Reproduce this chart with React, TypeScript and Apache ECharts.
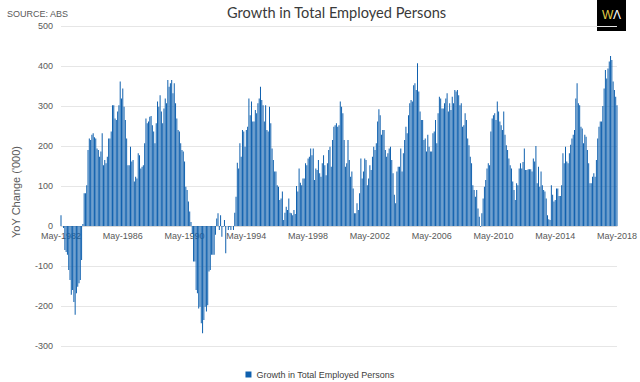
import React, { useEffect, useRef } from "react";
import * as echarts from "echarts";

const TITLE = "Growth in Total Employed Persons";
const SERIES_NAME = "Growth in Total Employed Persons";
const Y_NAME = "YoY Change ('000)";
const SOURCE = "SOURCE: ABS";
const MONTHS = ["Jan", "Feb", "Mar", "Apr", "May", "Jun", "Jul", "Aug", "Sep", "Oct", "Nov", "Dec"];
const START_YEAR = 1982;
const START_MONTH = 4; // May

// YoY change ('000), monthly from May-1982 to May-2018
const values1982 = [
  27, 0, -5, -60, -65, -72, -110, -135, -172, -160,
  -190, -222, -168, -152, -143, -135, -85, 5, 82, 82,
  102, 190, 219, 215, 228, 232, 222, 219, 194, 190,
  173, 186, 232, 152, 165, 157, 173, 219, 219, 236,
  302, 302, 269, 265, 286, 302, 361, 319, 344, 298,
  265, 219, 152, 152, 198, 161, 165, 111, 123, 119,
  182, 177, 144, 148, 152, 207, 269, 257, 261, 273,
];
const values1988 = [
  275, 252, 236, 207, 257, 311, 298, 327, 286, 257,
  294, 319, 307, 365, 348, 357, 365, 332, 357, 307,
  269, 240, 236, 207, 190, 186, 161, 98, 90, 61,
  36, 10, -20, -89, -89, -160, -168, -206, -202, -243,
  -268, -235, -202, -214, -198, -114, -110, -72, -72, -72,
  -22, 19, 32, -10, 27, -27, -2, 15, -68, 0,
  -10, -2, -10, 0, -10, 33, 73, 158, 144, 207,
  173, 240, 236,
];
const values1994 = [
  198, 240, 248, 319, 277, 311, 261, 261, 290, 282,
  307, 319, 348, 315, 302, 261, 302, 240, 236, 298,
  257, 194, 165, 136, 136, 102, 98, 65, 69, 86,
  15, 33, 48, 40, 69, 33, 32, 27, 40, 30,
  100, 86, 144, 108, 102, 119, 119, 157, 152, 169,
  173, 194, 177, 194, 115, 144, 140, 165, 132, 123,
  157, 177, 152, 127, 157, 190, 198, 148, 215, 248,
  252, 257,
];
const values2000 = [
  248, 252, 311, 298, 282, 215, 148, 157, 215, 165,
  123, 136, 94, 32, 32, 57, 40, 82, 169, 119,
  136, 169, 165, 102, 119, 152, 140, 173, 198, 190,
  207, 261, 292, 277, 228, 240, 240, 190, 173, 182,
  194, 198, 165, 132, 78, 57, 136, 148, 148, 194,
  136, 182, 215, 248, 232, 277, 307, 315, 311, 352,
  357, 340, 407, 336, 286, 265, 265, 215, 219, 186,
  228, 198,
];
const values2006 = [
  186, 186, 232, 236, 265, 207, 282, 323, 319, 294,
  294, 307, 319, 332, 286, 307, 290, 323, 307, 340,
  336, 340, 327, 302, 307, 248, 252, 282, 265, 219,
  202, 173, 157, 102, 90, 73, 90, 44, 23, -2,
  32, 69, 98, 115, 144, 157, 152, 236, 269, 277,
  282, 265, 311, 286, 261, 252, 240, 286, 228, 202,
  190, 169, 152, 144, 111, 90, 65, 107, 102, 144,
  157, 144, 160, 194,
];
const values2012 = [
  140, 140, 142, 142, 142, 136, 169, 161, 200, 107,
  148, 98, 136, 102, 90, 86, 69, 27, 17, 15,
  102, 78, 61, 65, 94, 94, 75, 75, 102, 182,
  157, 198, 161, 157, 182, 203, 219, 228, 240, 319,
  357, 307, 302, 248, 244, 207, 228, 223, 190, 157,
  107, 107, 123, 132, 123, 165, 219, 248, 261, 261,
  300, 344, 390, 369, 394, 411, 425, 415, 361, 340,
  323, 302,
];

const values = [...values1982, ...values1988, ...values1994, ...values2000, ...values2006, ...values2012];

const categories: string[] = [];
for (let i = 0; i < values.length; i++) {
  const m = START_MONTH + i;
  categories.push(MONTHS[m % 12] + "-" + (START_YEAR + Math.floor(m / 12)));
}

export default function App() {
  const ref = useRef<HTMLDivElement>(null);
  useEffect(() => {
    if (!ref.current) return;
    const chart = echarts.init(ref.current, null, { renderer: "svg" });
    const font = "'Liberation Sans', Arial, sans-serif";
    chart.setOption({
      animation: false,
      backgroundColor: "#ffffff",
      textStyle: { fontFamily: font },
      title: {
        text: TITLE,
        left: 222,
        top: 0,
        textStyle: { fontFamily: "Lato", fontSize: 14.6, fontWeight: "normal", color: "#3a3a3a" },
      },
      graphic: [
        { type: "text", left: 7, top: 9, style: { text: SOURCE, fontSize: 9, fill: "#595959", fontFamily: font } },
        { type: "rect", shape: { x: 597, y: 0, width: 29, height: 31 }, style: { fill: "#000000" } },
        { type: "text", x: 602, y: 9, style: { text: "W", fontSize: 12, fill: "#e3d04a", fontFamily: font } },
        { type: "text", x: 613, y: 9, style: { text: "Λ", fontSize: 12, fill: "#ffffff", fontFamily: font } },
      ],
      legend: {
        data: [SERIES_NAME],
        left: "center",
        top: 365,
        icon: "rect",
        itemWidth: 6,
        itemHeight: 6,
        textStyle: { fontSize: 9, color: "#404040", fontFamily: font },
      },
      grid: { left: 61, right: 17, top: 26, bottom: 36 },
      xAxis: {
        type: "category",
        data: categories,
        boundaryGap: false,
        offset: -120,
        axisLine: { onZero: false, lineStyle: { color: "#d9d9d9" } },
        axisTick: { show: false },
        axisLabel: { interval: 47, fontSize: 9, color: "#595959", margin: 5 },
        splitLine: { show: false },
      },
      yAxis: {
        type: "value",
        min: -300,
        max: 500,
        interval: 100,
        name: Y_NAME,
        nameLocation: "middle",
        nameGap: 40,
        nameTextStyle: { fontSize: 11, color: "#595959", padding: [0, 12, 0, 0] },
        axisLine: { show: false },
        axisTick: { show: false },
        axisLabel: { fontSize: 9, color: "#595959", margin: 8 },
        splitLine: { lineStyle: { color: "#e6e6e6" } },
      },
      series: [
        {
          type: "bar",
          name: SERIES_NAME,
          data: values,
          barCategoryGap: "25%",
          itemStyle: { color: "#0f60ae" },
        },
      ],
    });
    return () => chart.dispose();
  }, []);
  return <div ref={ref} style={{ width: 640, height: 382, position: "absolute", left: 0, top: 0 }} />;
}
